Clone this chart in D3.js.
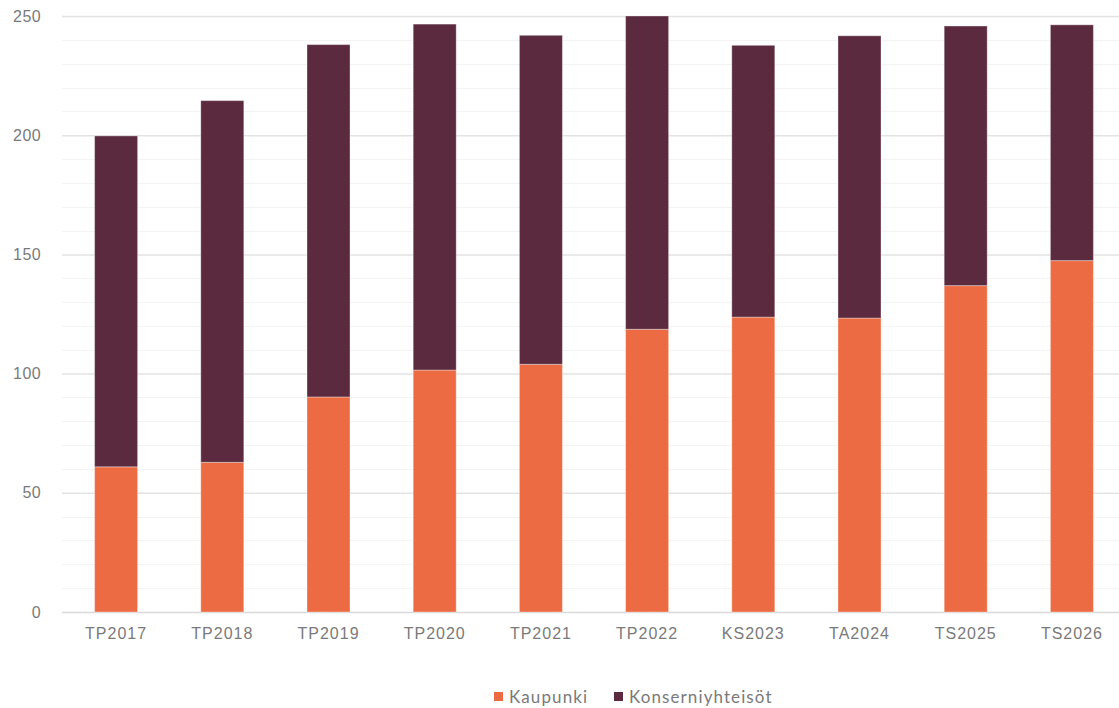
<!DOCTYPE html>
<html>
<head>
<meta charset="utf-8">
<script src="https://cdn.jsdelivr.net/npm/d3@7"></script>
<style>
  body { margin: 0; background: #fff; }
  svg { display: block; font-family: Lato, "Open Sans", sans-serif; }
</style>
</head>
<body>
<div id="chart"></div>
<script>
// data
const categories = ['TP2017', 'TP2018', 'TP2019', 'TP2020', 'TP2021', 'TP2022', 'KS2023', 'TA2024', 'TS2025', 'TS2026'];
const kaupunki = [60.9, 62.8, 90.2, 101.5, 103.9, 118.6, 123.7, 123.3, 136.9, 147.4];
const konserniyhteisot = [138.8, 151.7, 147.8, 145.1, 138.0, 131.4, 114.0, 118.4, 108.9, 98.9];
const seriesNames = ['Kaupunki', 'Konserniyhteisöt'];
const seriesColors = ['#ed6b42', '#5b2a3e'];
const yTicks = [0, 50, 100, 150, 200, 250];

const width = 1119, height = 708;
const margin = { top: 16, right: -6, bottom: 96, left: 63 };

const svg = d3.select('#chart').append('svg')
  .attr('width', width)
  .attr('height', height);

const rows = categories.map((c, i) => ({
  cat: c,
  Kaupunki: kaupunki[i],
  'Konserniyhteisöt': konserniyhteisot[i]
}));

const stacked = d3.stack().keys(seriesNames)(rows);

const x = d3.scaleBand()
  .domain(categories)
  .range([margin.left, width - margin.right])
  .paddingInner(0.595)
  .paddingOuter(0.2975);

const y = d3.scaleLinear()
  .domain([0, 250])
  .range([height - margin.bottom, margin.top]);

// minor gridlines every 10
svg.append('g')
  .selectAll('line')
  .data(d3.range(10, 250, 10).filter(v => v % 50 !== 0))
  .join('line')
  .attr('x1', margin.left - 1)
  .attr('x2', width)
  .attr('y1', d => Math.round(y(d)) + 0.5)
  .attr('y2', d => Math.round(y(d)) + 0.5)
  .attr('stroke', '#f3f3f3')
  .attr('stroke-width', 1);

// major gridlines + labels via axis
const yAxis = svg.append('g')
  .attr('transform', `translate(${margin.left - 1},0)`)
  .call(d3.axisLeft(y).tickValues(yTicks).tickSize(-(width - margin.left + 1)).tickPadding(21));

yAxis.select('.domain').remove();
yAxis.selectAll('.tick line')
  .attr('stroke', d => d === 0 ? '#d9d9d9' : '#e3e3e3')
  .attr('stroke-width', 1.5);
yAxis.selectAll('.tick text')
  .attr('fill', '#7a7a7a')
  .attr('font-size', 16)
  .attr('letter-spacing', 0.4);

// bars
svg.append('g')
  .selectAll('g')
  .data(stacked)
  .join('g')
  .attr('fill', (d, i) => seriesColors[i])
  .selectAll('rect')
  .data(d => d)
  .join('rect')
  .attr('x', d => x(d.data.cat))
  .attr('width', x.bandwidth())
  .attr('y', d => y(d[1]))
  .attr('height', d => y(d[0]) - y(d[1]))
  .attr('stroke', '#ffffff')
  .attr('stroke-opacity', 0.35)
  .attr('stroke-width', 1);

// x axis labels
const xAxis = svg.append('g')
  .attr('transform', `translate(0,${height - margin.bottom})`)
  .call(d3.axisBottom(x).tickSize(0).tickPadding(16));
xAxis.select('.domain').remove();
xAxis.selectAll('.tick text')
  .attr('fill', '#7a7a7a')
  .attr('font-size', 16)
  .attr('letter-spacing', 1);

// legend
const legendItems = [
  { name: seriesNames[0], color: seriesColors[0], x: 494 },
  { name: seriesNames[1], color: seriesColors[1], x: 614 }
];
const legend = svg.append('g').attr('transform', 'translate(0,697)');
const li = legend.selectAll('g')
  .data(legendItems)
  .join('g')
  .attr('transform', d => `translate(${d.x},0)`);
li.append('rect')
  .attr('x', 0)
  .attr('y', -5)
  .attr('width', 9)
  .attr('height', 9)
  .attr('fill', d => d.color);
li.append('text')
  .attr('x', 15)
  .attr('y', 0)
  .attr('dy', '0.35em')
  .attr('fill', '#7a7a7a')
  .attr('font-size', 17)
  .attr('letter-spacing', 1.1)
  .text(d => d.name);
</script>
</body>
</html>
